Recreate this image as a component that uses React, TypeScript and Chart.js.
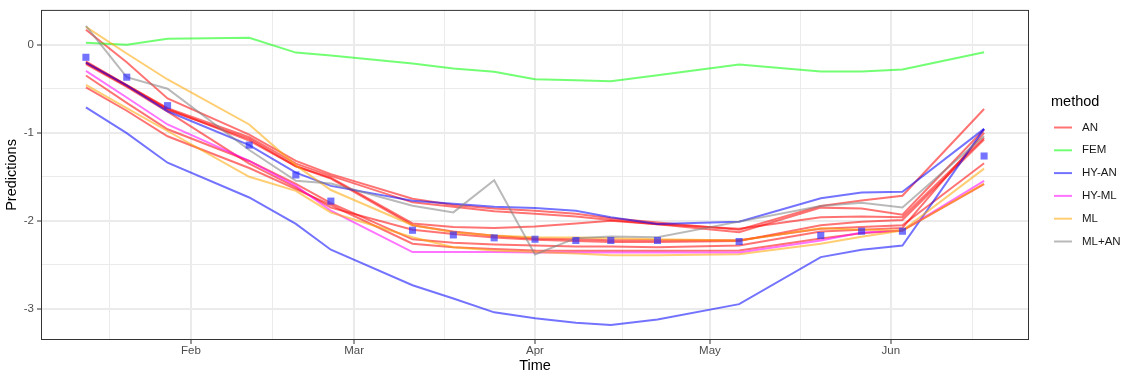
import React, { useEffect, useRef } from 'react';
import { Chart, registerables } from 'chart.js';

Chart.register(...registerables);

// ---- data ----
const dates = ['2021-01-14', '2021-01-21', '2021-01-28', '2021-02-11', '2021-02-19', '2021-02-25', '2021-03-11', '2021-03-18', '2021-03-25', '2021-04-01', '2021-04-08', '2021-04-14', '2021-04-22', '2021-05-06', '2021-05-20', '2021-05-27', '2021-06-03', '2021-06-17'];

const observed = [-0.143, -0.369, -0.692, -1.14, -1.479, -1.776, -2.107, -2.16, -2.193, -2.209, -2.223, -2.223, -2.223, -2.235, -2.167, -2.118, -2.118, -1.264];

const an1 = [0.17, -0.2, -0.61, -1.02, -1.32, -1.47, -1.75, -1.82, -1.86, -1.885, -1.92, -1.97, -2.02, -2.1, -1.83, -1.77, -1.715, -0.73];
const an2 = [-0.19, -0.46, -0.72, -1.05, -1.35, -1.49, -1.79, -1.84, -1.89, -1.92, -1.95, -1.99, -2.04, -2.13, -1.85, -1.86, -1.93, -0.963];
const an3 = [-0.21, -0.47, -0.74, -1.07, -1.38, -1.51, -2.03, -2.07, -2.08, -2.065, -2.03, -2.0, -2.04, -2.09, -1.96, -1.95, -1.96, -1.057];
const an4 = [-0.22, -0.48, -0.76, -1.35, -1.62, -1.85, -2.1, -2.15, -2.19, -2.215, -2.23, -2.24, -2.24, -2.23, -2.05, -2.01, -1.99, -1.076];
const an5 = [-0.2, -0.46, -0.73, -1.09, -1.38, -1.52, -2.05, -2.12, -2.17, -2.2, -2.21, -2.22, -2.22, -2.22, -2.09, -2.07, -2.05, -1.347];
const an6 = [-0.35, -0.66, -0.96, -1.32, -1.58, -1.8, -2.21, -2.25, -2.27, -2.28, -2.29, -2.29, -2.3, -2.28, -2.12, -2.1, -2.08, -1.0];
const an7 = [-0.485, -0.75, -1.04, -1.4, -1.64, -1.82, -2.26, -2.3, -2.32, -2.336, -2.34, -2.34, -2.34, -2.336, -2.2, -2.14, -2.11, -1.584];

const fem1 = [0.023, 0.0, 0.068, 0.079, -0.09, -0.124, -0.214, -0.271, -0.308, -0.392, -0.403, -0.414, -0.346, -0.226, -0.305, -0.305, -0.282, -0.087];

const hyAn1 = [-0.711, -1.005, -1.34, -1.735, -2.035, -2.328, -2.731, -2.881, -3.039, -3.107, -3.157, -3.183, -3.119, -2.946, -2.412, -2.328, -2.28, -0.956];
const hyAn2 = [-0.203, -0.463, -0.756, -1.14, -1.453, -1.603, -1.772, -1.806, -1.84, -1.854, -1.885, -1.96, -2.035, -2.009, -1.744, -1.678, -1.67, -0.956];

const hyMl1 = [-0.297, -0.6, -0.906, -1.32, -1.603, -1.885, -2.355, -2.355, -2.355, -2.36, -2.36, -2.36, -2.36, -2.36, -2.223, -2.133, -2.11, -1.546];

const ml1 = [0.203, -0.1, -0.395, -0.906, -1.37, -1.65, -2.05, -2.13, -2.167, -2.186, -2.19, -2.197, -2.21, -2.223, -2.085, -2.1, -2.11, -1.407];
const ml2 = [-0.455, -0.72, -0.98, -1.5, -1.66, -1.905, -2.186, -2.3, -2.336, -2.355, -2.37, -2.39, -2.39, -2.38, -2.26, -2.18, -2.11, -1.577];

const mlAn1 = [0.214, -0.369, -0.5, -1.196, -1.546, -1.577, -1.828, -1.904, -1.539, -2.381, -2.197, -2.178, -2.186, -2.009, -1.832, -1.795, -1.848, -1.038];

const methods = ['AN', 'FEM', 'HY-AN', 'HY-ML', 'ML', 'ML+AN'];
const methodColors: Record<string, string> = {
  'AN': 'rgba(255,0,0,0.55)',
  'FEM': 'rgba(0,255,0,0.55)',
  'HY-AN': 'rgba(0,0,255,0.55)',
  'HY-ML': 'rgba(255,0,255,0.55)',
  'ML': 'rgba(255,165,0,0.55)',
  'ML+AN': 'rgba(128,128,128,0.55)',
};
const seriesByMethod: Record<string, number[][]> = {
  'AN': [an1, an2, an3, an4, an5, an6, an7],
  'FEM': [fem1],
  'HY-AN': [hyAn1, hyAn2],
  'HY-ML': [hyMl1],
  'ML': [ml1, ml2],
  'ML+AN': [mlAn1],
};

const xTickDates = ['2021-02-01', '2021-03-01', '2021-04-01', '2021-05-01', '2021-06-01'];
const xTickLabels = ['Feb', 'Mar', 'Apr', 'May', 'Jun'];
const yTickValues = [-3, -2, -1, 0];
const yTickLabels = ['-3', '-2', '-1', '0'];

// ---- helpers ----
const DAY0 = Date.parse('2021-01-01T00:00:00Z');
const dayOf = (s: string) => (Date.parse(s + 'T00:00:00Z') - DAY0) / 86400000;

const FONT = "'Liberation Sans', Arial, Helvetica, sans-serif";

export default function App() {
  const ref = useRef<HTMLCanvasElement | null>(null);

  useEffect(() => {
    if (!ref.current) return;
    const xs = dates.map(dayOf);
    const xMajor = xTickDates.map(dayOf);
    const step = xMajor[1] - xMajor[0];
    const ext = [xMajor[0] - step, ...xMajor, xMajor[xMajor.length - 1] + step];
    const xMinor: number[] = [];
    for (let i = 0; i < ext.length - 1; i++) xMinor.push((ext[i] + ext[i + 1]) / 2);
    const xAll = [...xMajor, ...xMinor].sort((a, b) => a - b);
    const xLabelMap = new Map<number, string>();
    xMajor.forEach((v, i) => xLabelMap.set(v, xTickLabels[i]));

    const yMinor: number[] = [];
    for (let i = 0; i < yTickValues.length - 1; i++) yMinor.push((yTickValues[i] + yTickValues[i + 1]) / 2);
    const yAll = [...yTickValues, ...yMinor].sort((a, b) => a - b);
    const yLabelMap = new Map<number, string>();
    yTickValues.forEach((v, i) => yLabelMap.set(v, yTickLabels[i]));

    const xMin = xs[0] - 0.05 * (xs[xs.length - 1] - xs[0]);
    const xMax = xs[xs.length - 1] + 0.05 * (xs[xs.length - 1] - xs[0]);

    const lineSets: any[] = [];
    methods.forEach((m) => {
      seriesByMethod[m].forEach((vals) => {
        lineSets.push({
          type: 'line',
          label: m,
          data: vals.map((v, i) => ({ x: xs[i], y: v })),
          borderColor: methodColors[m],
          backgroundColor: methodColors[m],
          borderWidth: 2,
          pointRadius: 0,
          tension: 0,
          fill: false,
        });
      });
    });
    // first dataset is drawn on top in Chart.js: points first, then lines reversed
    const datasets = [
      {
        type: 'scatter',
        label: 'observed',
        data: observed.map((v, i) => ({ x: xs[i], y: v })),
        backgroundColor: 'rgba(40,40,255,0.65)',
        borderWidth: 0,
        pointStyle: 'rect',
        pointRadius: 5,
      },
      ...lineSets.reverse(),
    ];

    const isMajorX = (v: number) => xLabelMap.has(v);
    const isMajorY = (v: number) => yLabelMap.has(v);

    const panelBorder = {
      id: 'panelBorder',
      afterDatasetsDraw(chart: any) {
        const { ctx, chartArea } = chart;
        ctx.save();
        ctx.strokeStyle = '#333333';
        ctx.lineWidth = 1;
        ctx.strokeRect(chartArea.left + 0.5, chartArea.top + 0.5, chartArea.right - chartArea.left - 1, chartArea.bottom - chartArea.top - 1);
        ctx.restore();
      },
    };

    const ggLegend = {
      id: 'ggLegend',
      afterDraw(chart: any) {
        const { ctx } = chart;
        ctx.save();
        ctx.textBaseline = 'middle';
        ctx.textAlign = 'left';
        ctx.fillStyle = '#000000';
        ctx.font = `14.5px ${FONT}`;
        ctx.fillText('method', 1051, 102);
        ctx.font = `11.5px ${FONT}`;
        methods.forEach((m, i) => {
          const y = 127.5 + i * 22.8;
          ctx.strokeStyle = methodColors[m];
          ctx.lineWidth = 2;
          ctx.beginPath();
          ctx.moveTo(1054, y);
          ctx.lineTo(1072, y);
          ctx.stroke();
          ctx.fillStyle = '#1A1A1A';
          ctx.fillText(m, 1082, y);
        });
        ctx.restore();
      },
    };

    const chart = new Chart(ref.current, {
      type: 'line',
      data: { datasets } as any,
      plugins: [panelBorder, ggLegend],
      options: {
        responsive: false,
        animation: false,
        events: [],
        layout: { padding: { left: 0, right: 95, top: 8, bottom: 0 } },
        plugins: { legend: { display: false }, tooltip: { enabled: false } },
        scales: {
          x: {
            type: 'linear',
            min: xMin,
            max: xMax,
            bounds: 'data',
            afterBuildTicks: (s: any) => { s.ticks = xAll.map((v) => ({ value: v })); },
            afterFit: (s: any) => { s.height = 36; },
            ticks: {
              autoSkip: false,
              maxRotation: 0,
              minRotation: 0,
              padding: 1,
              color: '#4D4D4D',
              font: { family: FONT, size: 11.5, lineHeight: 1 },
              callback: (v: any) => xLabelMap.get(v) ?? '',
            },
            grid: {
              color: '#EBEBEB',
              lineWidth: (c: any) => (c.tick && isMajorX(c.tick.value) ? 2 : 1),
              tickColor: (c: any) => (c.tick && isMajorX(c.tick.value) ? '#333333' : 'rgba(0,0,0,0)'),
              tickLength: 4,
              tickWidth: 1,
            },
            border: { display: false },
            title: { display: true, text: 'Time', color: '#000000', font: { family: FONT, size: 14.5 }, padding: { top: 0, bottom: 1 } },
          },
          y: {
            type: 'linear',
            min: -3.353,
            max: 0.395,
            bounds: 'data',
            afterBuildTicks: (s: any) => { s.ticks = yAll.map((v) => ({ value: v })); },
            afterFit: (s: any) => { s.width = 41; },
            ticks: {
              autoSkip: false,
              padding: 3,
              color: '#4D4D4D',
              font: { family: FONT, size: 11.5 },
              callback: (v: any) => yLabelMap.get(v) ?? '',
            },
            grid: {
              color: '#EBEBEB',
              lineWidth: (c: any) => (c.tick && isMajorY(c.tick.value) ? 2 : 1),
              tickColor: (c: any) => (c.tick && isMajorY(c.tick.value) ? '#333333' : 'rgba(0,0,0,0)'),
              tickLength: 4,
              tickWidth: 1,
            },
            border: { display: false },
            title: { display: true, text: 'Predictions', color: '#000000', font: { family: FONT, size: 14.5 }, padding: { top: 3, bottom: 0 } },
          },
        },
      } as any,
    });
    return () => chart.destroy();
  }, []);

  return (
    <div style={{ position: 'absolute', left: 0, top: 0, width: 1124, height: 376, background: '#ffffff' }}>
      <canvas ref={ref} width={1124} height={376} style={{ display: 'block', width: 1124, height: 376 }} />
    </div>
  );
}
